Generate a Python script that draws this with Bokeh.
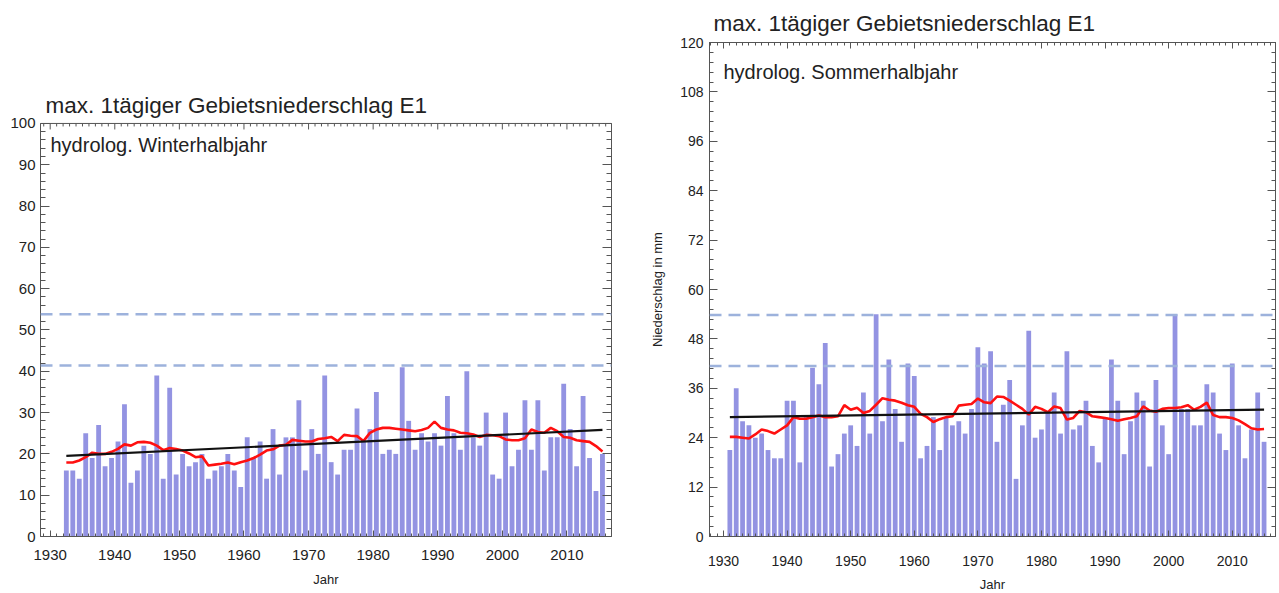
from bokeh.plotting import figure
from bokeh.models import Span, Label, LinearAxis, Range1d, SingleIntervalTicker
from bokeh.layouts import row
from bokeh.embed import file_html
from bokeh.resources import INLINE

FONT = "Liberation Sans"
TXT = "#222222"
AX = "#555555"

TITLE = "max. 1tägiger Gebietsniederschlag E1"

# ---------------- data: hydrological winter half-year ----------------
winter_years = list(range(1932, 2016))
winter_max = [16, 16, 14, 25, 19, 27, 17, 19, 23, 32,
              13, 16, 22, 20, 39, 14, 36, 15, 20, 17,
              18, 20, 14, 16, 17, 20, 16, 12, 24, 19,
              23, 14, 26, 15, 24, 24, 33, 16, 26, 20,
              39, 18, 15, 21, 21, 31, 23, 26, 35, 20,
              21, 20, 41, 28, 21, 25, 23, 25, 22, 34,
              25, 21, 40, 24, 22, 30, 15, 14, 30, 17,
              21, 33, 21, 33, 16, 24, 24, 37, 26, 17,
              34, 19, 11, 20]
winter_mean = [17.9, 17.9, 18.4, 19.2, 20.3, 20.0, 20.0, 20.5, 21.2, 22.3,
               22.0, 22.8, 22.9, 22.7, 22.0, 20.9, 21.4, 21.2, 20.8, 20.1,
               19.2, 19.4, 17.2, 17.4, 17.6, 17.9, 17.5, 18.0, 18.4, 19.0,
               19.8, 20.8, 21.1, 22.0, 22.2, 23.4, 23.2, 23.0, 23.0, 23.6,
               23.8, 24.1, 23.1, 24.6, 24.4, 24.3, 23.1, 25.1, 25.9, 26.3,
               26.3, 26.1, 25.9, 25.7, 25.5, 25.8, 26.3, 27.8, 26.3, 25.9,
               25.7, 25.1, 25.0, 24.7, 24.1, 24.6, 24.5, 24.3, 23.5, 23.3,
               23.3, 23.8, 25.9, 25.3, 25.1, 26.3, 25.5, 24.1, 23.9, 23.3,
               23.1, 22.9, 21.9, 20.6]
winter_trend_years = [1932, 2015]
winter_trend = [19.5, 25.8]

# ---------------- data: hydrological summer half-year ----------------
summer_years = list(range(1931, 2016))
summer_max = [21, 36, 28, 27, 24, 25, 21, 19, 19, 33,
              33, 18, 29, 41, 37, 47, 17, 20, 25, 27,
              22, 35, 25, 54, 28, 43, 31, 23, 42, 39,
              19, 22, 29, 21, 29, 27, 28, 25, 31, 46,
              42, 45, 23, 32, 38, 14, 27, 50, 24, 26,
              30, 35, 25, 45, 26, 27, 33, 22, 18, 29,
              43, 33, 20, 28, 35, 33, 17, 38, 27, 20,
              54, 31, 31, 27, 27, 37, 35, 25, 21, 42,
              27, 19, 26, 35, 23]
summer_mean = [24.2, 24.2, 24.0, 23.8, 24.8, 26.0, 25.6, 25.0, 26.0, 27.0,
               29.0, 28.6, 28.6, 29.0, 29.4, 29.0, 29.0, 29.2, 31.9, 30.8,
               31.3, 30.0, 30.5, 32.0, 33.6, 33.2, 33.0, 32.5, 31.9, 31.5,
               29.8, 29.0, 27.8, 28.5, 29.0, 29.2, 31.8, 32.0, 32.2, 33.5,
               32.6, 32.4, 34.0, 33.9, 33.0, 32.0, 31.0, 29.6, 31.5, 31.0,
               30.2, 31.6, 31.2, 28.4, 28.8, 30.5, 30.2, 29.2, 29.0, 28.8,
               28.5, 28.1, 28.5, 28.8, 29.2, 31.6, 30.6, 30.3, 31.0, 31.2,
               31.2, 31.4, 31.9, 30.8, 31.5, 32.5, 29.5, 29.0, 29.0, 28.8,
               28.2, 27.3, 26.3, 26.0, 26.1]
summer_trend_years = [1931, 2015]
summer_trend = [29.0, 30.8]

thresholds = [53.8, 41.4]
winter_x_shift = 0.5   # winter bars sit half a year to the right

BAR = "#9393e2"
RED = "#ff1010"
DASH = "#9db2dc"


def style_axis(a, tick_in, minor_in):
    a.axis_line_color = AX
    a.major_tick_line_color = AX
    a.minor_tick_line_color = AX
    a.major_tick_out = 0
    a.minor_tick_out = 0
    a.major_tick_in = tick_in
    a.minor_tick_in = minor_in
    a.major_label_text_font = FONT
    a.major_label_text_color = TXT
    a.axis_label_text_font = FONT
    a.axis_label_text_color = TXT
    a.axis_label_text_font_style = "normal"


def hide_labels(a):
    a.major_label_text_font_size = "0px"
    a.major_label_text_color = None
    a.major_label_text_alpha = 0
    a.major_label_standoff = 0


def draw_data(p, years, vals, mean, tyears, trend, shift):
    xs = [y + shift for y in years]
    p.vbar(x=xs, top=vals, width=0.75, bottom=0, fill_color=BAR, line_color=None)
    for t in thresholds:
        p.add_layout(Span(location=t, dimension="width", line_color=DASH,
                          line_width=2.5, line_dash="12 7"))
    p.line(x=xs, y=mean, line_color=RED, line_width=2.6)
    p.line(x=[y + shift for y in tyears], y=trend, line_color="#111111",
           line_width=2.2)


# ======================= left panel (winter) =======================
W_XR = (1928.5, 2016.9)
W_TOP = 100
W_YR = (0, 119.6)   # frame reaches up to the right panel's frame top; box ends at 100
p1 = figure(frame_width=571, frame_height=494,
            x_range=Range1d(*W_XR), y_range=Range1d(*W_YR),
            output_backend="svg", toolbar_location=None,
            min_border_left=40, min_border_right=34,
            min_border_top=42, min_border_bottom=55,
            background_fill_color="white", border_fill_color="white")
p1.outline_line_color = None
p1.xgrid.grid_line_color = None
p1.ygrid.grid_line_color = None
draw_data(p1, winter_years, winter_max, winter_mean, winter_trend_years,
          winter_trend, winter_x_shift)

xa = p1.xaxis[0]
xa.ticker = SingleIntervalTicker(interval=10, num_minor_ticks=10)
style_axis(xa, 6, 3)
xa.major_label_text_font_size = "15px"
xa.major_label_standoff = 13
xa.axis_label = "Jahr"
xa.axis_label_text_font_size = "13px"
xa.axis_label_standoff = 9

ya = p1.yaxis[0]
ya.ticker = SingleIntervalTicker(interval=10, num_minor_ticks=5)
ya.bounds = (0, W_TOP)
style_axis(ya, 9, 5)
ya.major_label_text_font_size = "15px"
ya.major_label_standoff = 5

ra = LinearAxis(ticker=SingleIntervalTicker(interval=10, num_minor_ticks=5),
                bounds=(0, W_TOP))
style_axis(ra, 9, 5)
hide_labels(ra)
p1.add_layout(ra, "right")

# top edge of the winter box, with inward year ticks
p1.add_layout(Span(location=W_TOP, dimension="width", line_color=AX, line_width=1))
tick_years = list(range(int(W_XR[0]) + 1, int(W_XR[1]) + 1))
major_years = [y for y in tick_years if y % 10 == 0]
minor_years = [y for y in tick_years if y % 10 != 0]
px_per_unit = 494 / (W_YR[1] - W_YR[0])
p1.segment(x0=major_years, x1=major_years, y0=[W_TOP] * len(major_years),
           y1=[W_TOP - 6 / px_per_unit] * len(major_years), line_color=AX, line_width=1)
p1.segment(x0=minor_years, x1=minor_years, y0=[W_TOP] * len(minor_years),
           y1=[W_TOP - 3 / px_per_unit] * len(minor_years), line_color=AX, line_width=1)

p1.add_layout(Label(x=W_XR[0], y=W_TOP, x_offset=5, y_offset=18, text=TITLE,
                    text_font=FONT, text_font_size="22.5px", text_color=TXT,
                    text_baseline="alphabetic"))
p1.add_layout(Label(x=W_XR[0], y=W_TOP, x_offset=10, y_offset=-22,
                    text="hydrolog. Winterhalbjahr", text_font=FONT,
                    text_font_size="20px", text_color=TXT,
                    text_baseline="alphabetic"))

# ======================= right panel (summer) =======================
S_XR = (1927.8, 2016.8)
S_YR = (0, 120)
p2 = figure(frame_width=566, frame_height=494,
            x_range=Range1d(*S_XR), y_range=Range1d(*S_YR),
            output_backend="svg", toolbar_location=None,
            min_border_left=64, min_border_right=3,
            min_border_top=42, min_border_bottom=55,
            background_fill_color="white", border_fill_color="white")
p2.outline_line_color = AX
p2.xgrid.grid_line_color = None
p2.ygrid.grid_line_color = None
draw_data(p2, summer_years, summer_max, summer_mean, summer_trend_years,
          summer_trend, 0.0)

xb = p2.xaxis[0]
xb.ticker = SingleIntervalTicker(interval=10, num_minor_ticks=10)
style_axis(xb, 6, 3)
xb.major_label_text_font_size = "14px"
xb.major_label_standoff = 19
xb.axis_label = "Jahr"
xb.axis_label_text_font_size = "13px"
xb.axis_label_standoff = 8

yb = p2.yaxis[0]
yb.ticker = SingleIntervalTicker(interval=12, num_minor_ticks=5)
style_axis(yb, 8, 4)
yb.major_label_text_font_size = "14px"
yb.major_label_standoff = 6
yb.axis_label = "Niederschlag in mm"
yb.axis_label_text_font_size = "13px"
yb.axis_label_standoff = 12

tb = LinearAxis(ticker=SingleIntervalTicker(interval=10, num_minor_ticks=10))
rb = LinearAxis(ticker=SingleIntervalTicker(interval=12, num_minor_ticks=5))
style_axis(tb, 6, 3)
style_axis(rb, 8, 4)
hide_labels(tb)
hide_labels(rb)
p2.add_layout(tb, "above")
p2.add_layout(rb, "right")

p2.title.text = TITLE
p2.title.text_font = FONT
p2.title.text_font_size = "22.5px"
p2.title.text_font_style = "normal"
p2.title.text_color = TXT
p2.title.align = "left"
p2.title.offset = 4
p2.title.standoff = 13

p2.add_layout(Label(x=S_XR[0], y=S_YR[1], x_offset=14, y_offset=-29,
                    text="hydrolog. Sommerhalbjahr", text_font=FONT,
                    text_font_size="20px", text_color=TXT,
                    text_baseline="alphabetic"))

layout = row(p1, p2)
open("out.html", "w").write(file_html(layout, INLINE))
